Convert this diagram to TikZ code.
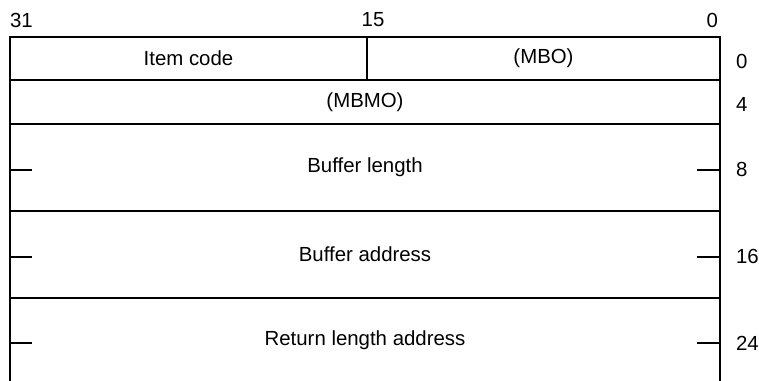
\documentclass[tikz,border=0pt]{standalone}
\usepackage{fontspec}
\setmainfont{Liberation Sans}
\tikzset{
  field/.style={inner sep=0pt},
  offs/.style={inner sep=0pt,anchor=west},
}
\begin{document}
\begin{tikzpicture}[x=0.75pt,y=-0.75pt,line width=1.5pt,font=\fontsize{15.3}{18}\selectfont]
\useasboundingbox (0,0) rectangle (759,381);
% frame and rows
\draw (10,381) -- (10,37.5) -- (720,37.5) -- (720,381);
\draw (10,80) -- (720,80);
\draw (10,124) -- (720,124);
\draw (10,210.5) -- (720,210.5);
\draw (10,297.5) -- (720,297.5);
\draw (367,37.5) -- (367,80);
% ticks on the quadword rows
\foreach \y in {170,256.5,342.5} {
  \draw (10,\y) -- (32,\y);
  \draw (697,\y) -- (720,\y);
}

% bit numbers
\node[field,anchor=west] (b31) at (9,20) {31};
\node[field] (b15) at (373,20) {15};
\node[field,anchor=east] (b0) at (719,20) {0};

% fields
\node[field] (item) at (188.5,58) {Item code};
\node[field] (mbo) at (543.5,58) {(MBO)};
\node[field] (mbmo) at (365,102) {(MBMO)};
\node[field] (buflen) at (365,167) {Buffer length};
\node[field] (bufadr) at (365,254) {Buffer address};
\node[field] (retlen) at (365,340) {Return length address};

% byte offsets
\node[offs] (o0) at (735,61.5) {0};
\node[offs] (o4) at (735,104.5) {4};
\node[offs] (o8) at (735,169.5) {8};
\node[offs] (o16) at (735,256.5) {16};
\node[offs] (o24) at (735,343) {24};
\end{tikzpicture}
\end{document}
